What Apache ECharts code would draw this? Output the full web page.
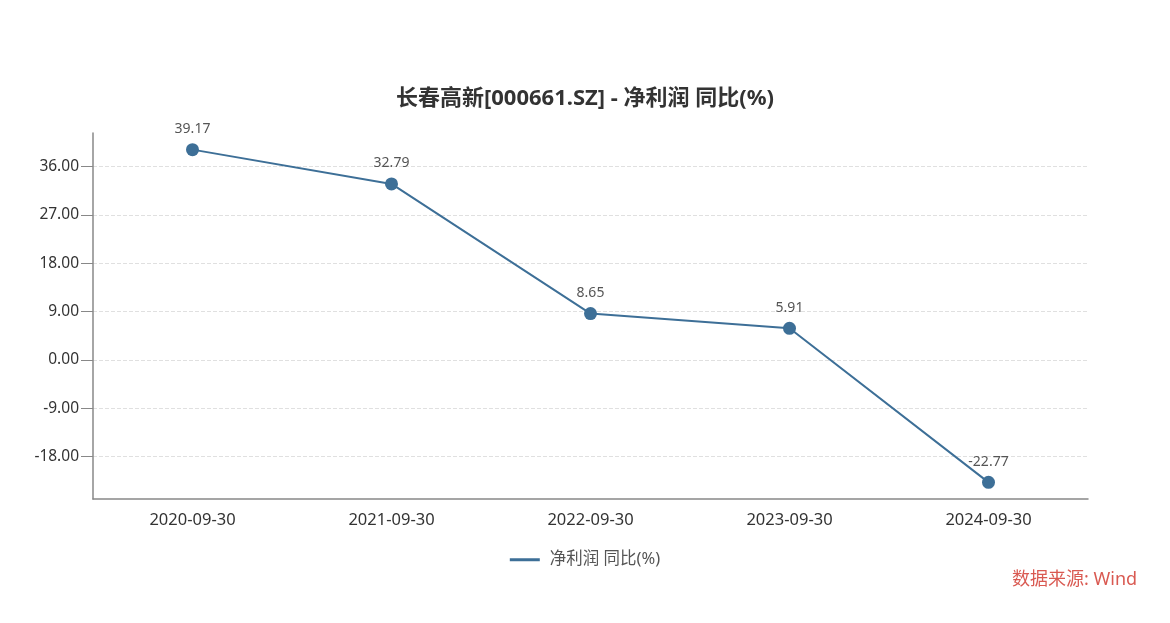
<!DOCTYPE html>
<html><head><meta charset="utf-8">
<script src="https://cdn.jsdelivr.net/npm/echarts@6/dist/echarts.min.js"></script>
<style>html,body{margin:0;padding:0;background:#fff}#c{width:1170px;height:623px}</style>
</head><body><div id="c"></div>
<script>
const categories = ['2020-09-30','2021-09-30','2022-09-30','2023-09-30','2024-09-30'];
const values = [39.17, 32.79, 8.65, 5.91, -22.77];
const yTicks = [-18, -9, 0, 9, 18, 27, 36];
const seriesName = '净利润 同比(%)';
const titleText = '长春高新[000661.SZ] - 净利润 同比(%)';
const sourceText = '数据来源: Wind';

const font = '"Noto Sans", "Noto Sans CJK SC", sans-serif';
const chart = echarts.init(document.getElementById('c'));
chart.setOption({
  animation: false,
  textStyle: {fontFamily: font},
  title: {text: titleText, left: 'center', top: 83,
    textStyle: {fontSize: 22, fontWeight: 'bold', color: '#333', fontFamily: font}},
  legend: {data: [seriesName], bottom: 50, left: 'center', icon: 'path://M0,0 H30 V3 H0 Z',
    itemWidth: 30, itemHeight: 3, textStyle: {fontSize: 16.5, color: '#555', fontFamily: font, padding: [0, 0, 0, 5]}},
  grid: {left: 93, right: 82, top: 133, bottom: 124, containLabel: false},
  xAxis: {type: 'category', data: categories, boundaryGap: true,
    axisLine: {onZero: false, lineStyle: {color: '#888', width: 1.5}},
    axisTick: {alignWithLabel: true, length: 9, lineStyle: {color: '#888'}},
    axisLabel: {fontSize: 16.5, color: '#333', margin: 13, fontFamily: font},
    splitLine: {show: false}},
  yAxis: {type: 'value',
    min: v => v.min - (v.max - v.min) * 0.05,
    max: v => v.max + (v.max - v.min) * 0.05,
    axisLine: {show: true, lineStyle: {color: '#888', width: 1.5}},
    axisTick: {show: true, length: 12, lineStyle: {color: '#888'}, customValues: yTicks},
    axisLabel: {fontSize: 15.5, color: '#333', margin: 14, customValues: yTicks,
      formatter: v => v.toFixed(2), fontFamily: font},
    splitLine: {show: true, lineStyle: {type: 'dashed', color: '#e0e0e0'}}},
  series: [{name: seriesName, type: 'line', data: values,
    symbol: 'circle', symbolSize: 13,
    lineStyle: {color: '#3d6f97', width: 2},
    itemStyle: {color: '#3d6f97'},
    label: {show: true, position: 'top', distance: 7, fontSize: 14, color: '#555',
      formatter: p => p.value.toFixed(2), fontFamily: font}}],
  graphic: [{type: 'text', left: 1012, top: 571,
    style: {text: sourceText, fontSize: 18, fill: 'rgba(210,60,50,0.85)', fontFamily: font}}]
});
</script></body></html>
